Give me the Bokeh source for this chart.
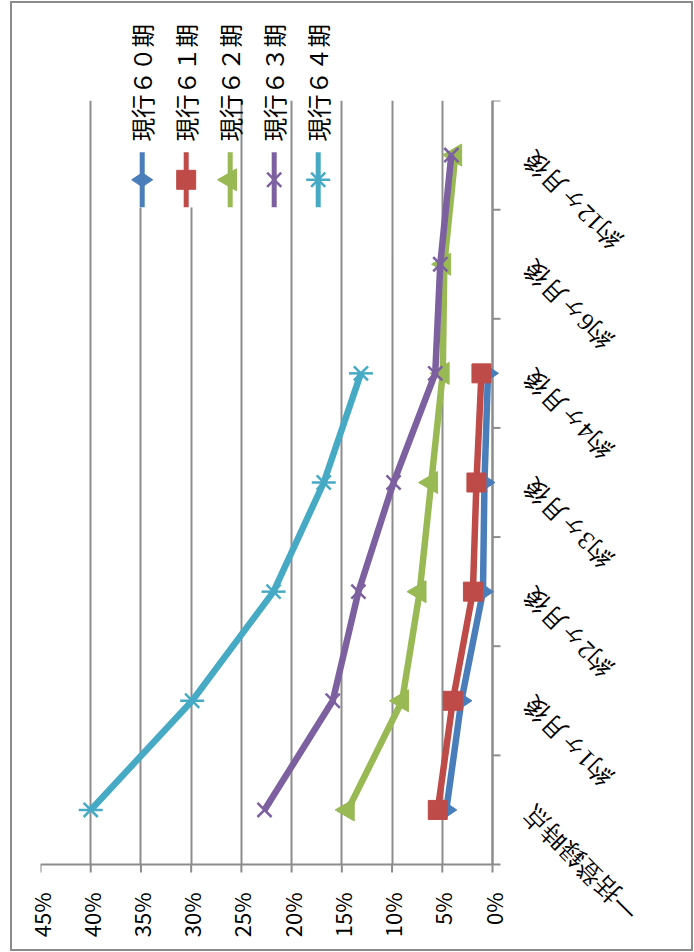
import math
from bokeh.plotting import figure
from bokeh.models import (Range1d, FixedTicker, PrintfTickFormatter,
                          ColumnDataSource, LabelSet, LinearAxis)
from bokeh.embed import file_html
from bokeh.resources import INLINE

# ---------------- data ----------------
categories = ["一括登録時点", "約1ヶ月後", "約2ヶ月後", "約3ヶ月後",
              "約4ヶ月後", "約6ヶ月後", "約12ヶ月後"]
series_names = ["現行６０期", "現行６１期", "現行６２期", "現行６３期", "現行６４期"]
s60 = [4.6, 3.1, 0.95, 0.8, 0.45]
s61 = [5.45, 3.95, 1.95, 1.6, 1.1]
s62 = [14.4, 9.0, 7.25, 6.1, 4.95, 4.8, 3.7]
s63 = [22.7, 15.9, 13.35, 9.85, 5.7, 5.2, 4.1]
s64 = [40.0, 29.9, 21.8, 16.8, 13.1]
value_ticks = [0, 5, 10, 15, 20, 25, 30, 35, 40, 45]

colors = ["#4A7EBB", "#BE4B48", "#98B954", "#7D60A0", "#46AAC5"]
GRID = "#8C8C8C"
JP = "Noto Sans CJK JP"

# ---------------- layout (page pixels) ----------------
PAGE_W, PAGE_H = 694, 952
SHIFT = 9                              # chart box starts a little right of the page edge
FL, FR, FT, FB = 40, 492, 100, 864     # plot area (value 45% .. 0%, top .. bottom)
FRAME_R, FRAME_B = 684, 940            # drawing frame extends to hold the labels
TICK = 8
VMIN, VMAX = value_ticks[0], value_ticks[-1]
NCAT = len(categories)

def px_to_val(xp):
    return VMAX * (FR - xp) / (FR - FL)

def py_to_cat(yp):
    return NCAT * (FB - yp) / (FB - FT)

p = figure(width=PAGE_W - SHIFT, height=PAGE_H, output_backend="svg",
           toolbar_location=None, y_axis_location=None,
           x_range=Range1d(VMAX, px_to_val(FRAME_R)),
           y_range=Range1d(py_to_cat(FRAME_B), NCAT),
           min_border_left=FL - SHIFT, min_border_right=PAGE_W - FRAME_R,
           min_border_top=FT, min_border_bottom=PAGE_H - FRAME_B)
p.outline_line_color = None
p.background_fill_color = "white"
p.border_fill_color = None

# value axis labels (bottom, read upward); its line and ticks are drawn at 0
xa = p.xaxis[0]
xa.bounds = (VMIN, VMAX)
xa.ticker = FixedTicker(ticks=value_ticks)
xa.formatter = PrintfTickFormatter(format="%d%%")
xa.major_label_orientation = math.pi / 2
xa.major_label_text_font = JP
xa.major_label_text_font_size = "22px"
xa.major_label_text_color = "black"
xa.major_label_standoff = (FB + TICK + 20) - FRAME_B
xa.major_tick_out = 0
xa.major_tick_in = 0
xa.major_tick_line_color = None
xa.minor_tick_line_color = None
xa.axis_line_color = None

# grid lines between the two axes only
p.ygrid.visible = False
p.xgrid.ticker = FixedTicker(ticks=value_ticks)
p.xgrid.grid_line_color = GRID
p.xgrid.grid_line_width = 2
try:
    p.xgrid.cross_bounds = (0, NCAT)
except Exception:
    p.xgrid.visible = False
    p.segment(x0=value_ticks, y0=[0] * len(value_ticks), x1=value_ticks,
              y1=[NCAT] * len(value_ticks), line_color=GRID, line_width=2)

# value axis line and ticks
p.segment(x0=[VMIN], y0=[0], x1=[VMAX], y1=[0], line_color=GRID, line_width=2)
p.segment(x0=value_ticks, y0=[0] * len(value_ticks), x1=value_ticks,
          y1=[py_to_cat(FB + TICK)] * len(value_ticks), line_color=GRID, line_width=2)

# category axis at 0%: line plus ticks between categories
cat_pos = [i + 0.5 for i in range(NCAT)]
bounds_c = list(range(NCAT + 1))
tick_end = px_to_val(FR + TICK)
p.segment(x0=[VMIN], y0=[0], x1=[VMIN], y1=[NCAT], line_color=GRID, line_width=2)
p.segment(x0=[VMIN] * len(bounds_c), y0=bounds_c, x1=[tick_end] * len(bounds_c),
          y1=bounds_c, line_color=GRID, line_width=2)

# category labels, upside-down diagonal, ending near the axis
cat_src = ColumnDataSource(dict(y=cat_pos, text=categories))
p.add_layout(LabelSet(x=VMIN, y="y", text="text", source=cat_src, x_offset=35,
                      angle=3 * math.pi / 4, text_align="right",
                      text_baseline="middle", text_font=JP,
                      text_font_size="25px", text_color="black"))

# white patch behind the first legend entries (covers two grid lines there)
p.quad(left=[px_to_val(116)], right=[px_to_val(216)],
       bottom=[py_to_cat(207)], top=[NCAT],
       fill_color="white", line_color=None)

# ---------------- series ----------------
all_series = [s60, s61, s62, s63, s64]

def markers(xs, ys, k, col):
    if k == 0:
        p.scatter(xs, ys, marker="diamond", size=21, angle=math.pi / 2,
                  fill_color=col, line_color=col)
    elif k == 1:
        p.scatter(xs, ys, marker="square", size=19, fill_color=col, line_color=col)
    elif k == 2:
        p.scatter(xs, ys, marker="triangle", size=22, angle=math.pi / 2,
                  fill_color=col, line_color=col)
    elif k == 3:
        p.scatter(xs, ys, marker="x", size=20, line_color=col, line_width=2.5)
    else:
        p.scatter(xs, ys, marker="x", size=20, line_color=col, line_width=2.5)
        p.scatter(xs, ys, marker="dash", size=24, line_color=col, line_width=2.5)

for k, (vals, col) in enumerate(zip(all_series, colors)):
    ys = cat_pos[:len(vals)]
    p.line(vals, ys, line_color=col, line_width=6.5, line_join="round")
    markers(vals, ys, k, col)

# ---------------- legend (rotated, drawn by hand) ----------------
LEG_X0, LEG_DX = 141.7, 44.0
leg_x = [px_to_val(LEG_X0 + LEG_DX * k) for k in range(len(series_names))]
for k, col in enumerate(colors):
    p.segment(x0=[leg_x[k]], y0=[py_to_cat(151.7)], x1=[leg_x[k]], y1=[py_to_cat(206.7)],
              line_color=col, line_width=5)
    markers([leg_x[k]], [py_to_cat(179.3)], k, col)

leg_axis = LinearAxis(ticker=FixedTicker(ticks=leg_x),
                      major_label_overrides={x: n for x, n in zip(leg_x, series_names)})
leg_axis.axis_line_color = None
leg_axis.major_tick_line_color = None
leg_axis.minor_tick_line_color = None
leg_axis.major_label_orientation = math.pi / 2
leg_axis.major_label_standoff = -47
leg_axis.major_label_text_font = JP
leg_axis.major_label_text_font_size = "23.5px"
leg_axis.major_label_text_color = "black"
p.add_layout(leg_axis, "above")

p.styles = {
    "margin-left": "%dpx" % SHIFT,
    "box-shadow": "inset 0 0 0 1px white, inset 0 0 0 3px #8C8C8C",
}

open("out.html", "w").write(file_html(p, INLINE))
